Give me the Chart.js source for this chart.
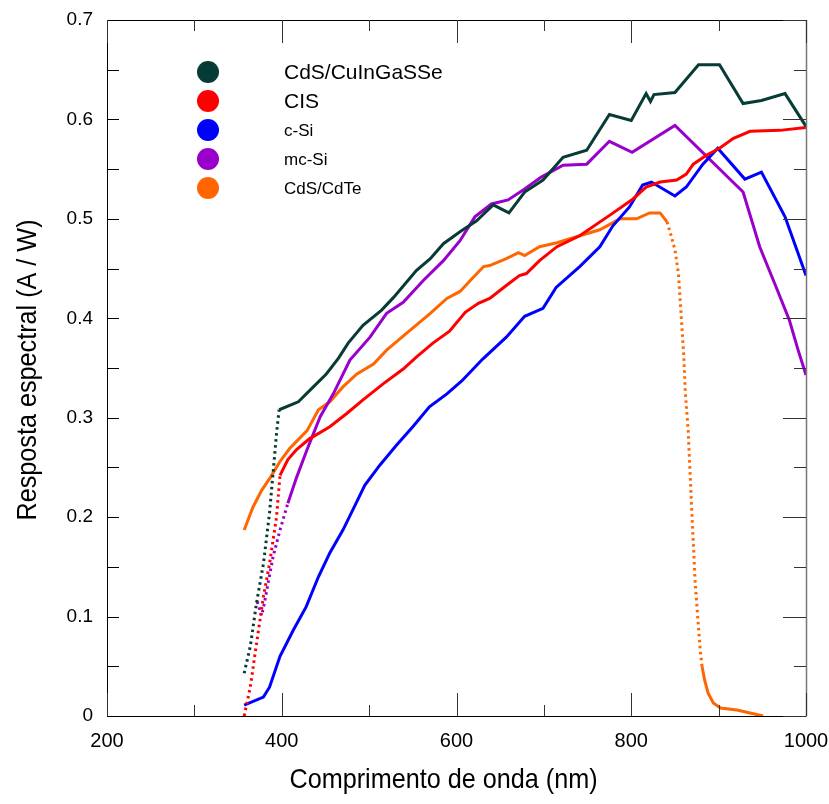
<!DOCTYPE html>
<html>
<head>
<meta charset="utf-8">
<script src="https://cdn.jsdelivr.net/npm/chart.js@4.4.1/dist/chart.umd.min.js"></script>
<style>
html,body{margin:0;padding:0;background:#fff;}
#wrap{width:829px;height:804px;}
</style>
</head>
<body>
<div id="wrap"><canvas id="c" width="829" height="804"></canvas></div>
<script>
// ---- Data (wavelength in nm, spectral response in A/W) ----
const seriesNames = ["CdS/CuInGaSSe", "CIS", "c-Si", "mc-Si", "CdS/CdTe"];
const seriesColors = ["#063b36", "#ff0000", "#0000ff", "#9900cc", "#ff6600"];

const cigssX = [357,364,371,379,386,394,397,419,435,451,465,476,493,514,528,554,570,585,604,623,642,660,678,699,722,749,775,800,817,822,826,850,877,901,928,949,976,1000];
const cigssY = [0.043,0.070,0.113,0.153,0.204,0.284,0.308,0.316,0.330,0.344,0.360,0.375,0.393,0.408,0.421,0.448,0.460,0.475,0.487,0.498,0.514,0.506,0.527,0.539,0.562,0.569,0.605,0.599,0.626,0.618,0.625,0.627,0.655,0.655,0.616,0.619,0.626,0.593];

const cisX = [357,364,369,374,379,386,394,398,407,417,432,436,455,474,493,516,539,554,573,592,610,625,638,657,672,680,695,715,741,776,802,817,833,852,863,871,886,901,917,936,970,1000];
const cisY = [0.000,0.029,0.060,0.090,0.120,0.153,0.200,0.242,0.258,0.268,0.279,0.281,0.291,0.304,0.318,0.334,0.349,0.361,0.375,0.387,0.406,0.415,0.420,0.433,0.443,0.445,0.458,0.472,0.483,0.504,0.520,0.532,0.537,0.539,0.545,0.555,0.564,0.571,0.581,0.588,0.589,0.592];

const csiX = [357,379,386,398,413,428,442,455,470,484,495,512,531,550,569,589,606,630,657,678,699,714,741,764,779,798,813,823,850,863,882,899,930,949,976,1000];
const csiY = [0.011,0.019,0.029,0.060,0.086,0.110,0.140,0.164,0.187,0.212,0.232,0.252,0.272,0.291,0.311,0.324,0.337,0.359,0.381,0.402,0.410,0.431,0.452,0.472,0.493,0.512,0.534,0.537,0.523,0.532,0.555,0.571,0.540,0.547,0.502,0.443];

const mcsiX = [372,377,380,390,398,407,417,429,444,459,478,501,520,539,562,585,604,621,640,659,678,697,722,749,775,801,850,928,947,966,981,991,1000];
const mcsiY = [0.115,0.101,0.113,0.160,0.187,0.214,0.240,0.268,0.301,0.324,0.358,0.381,0.405,0.416,0.438,0.458,0.478,0.502,0.515,0.519,0.530,0.542,0.554,0.555,0.578,0.567,0.594,0.527,0.472,0.431,0.398,0.368,0.343];

const cdteX = [357,367,377,387,398,409,420,429,442,455,470,486,505,520,543,570,589,604,619,631,638,657,671,678,695,715,741,764,787,806,821,833,841,845,850,854,857,860,862,865,867,869,871,873,876,879,881,884,888,894,902,921,936,951];
const cdteY = [0.187,0.210,0.227,0.240,0.256,0.269,0.279,0.287,0.308,0.316,0.331,0.344,0.354,0.368,0.385,0.405,0.420,0.427,0.441,0.452,0.453,0.460,0.466,0.463,0.472,0.476,0.483,0.489,0.500,0.500,0.506,0.506,0.497,0.485,0.469,0.445,0.405,0.364,0.324,0.289,0.251,0.211,0.175,0.137,0.100,0.066,0.050,0.036,0.023,0.013,0.008,0.006,0.003,0.000];

// wavelength ranges drawn with a dotted line
const dottedRanges = [[0,397],[0,398],[0,0],[0,407],[841,882]];

const xTickValues = [200,400,600,800,1000];
const yTickValues = [0,0.1,0.2,0.3,0.4,0.5,0.6,0.7];
const xTitle = 'Comprimento de onda (nm)';
const yTitle = 'Resposta espectral (A / W)';

const allX = [cigssX, cisX, csiX, mcsiX, cdteX];
const allY = [cigssY, cisY, csiY, mcsiY, cdteY];

const datasets = seriesNames.map((name, k) => {
  const rng = dottedRanges[k];
  return {
    label: name,
    data: allX[k].map((x, i) => ({x: x, y: allY[k][i]})),
    showLine: true,
    borderColor: seriesColors[k],
    backgroundColor: seriesColors[k],
    borderWidth: 3,
    pointRadius: 0,
    tension: 0,
    fill: false,
    segment: {
      borderDash: ctx => (ctx.p0.parsed.x >= rng[0] && ctx.p1.parsed.x <= rng[1]) ? [2.5, 3.5] : undefined
    }
  };
});

const frameTicks = {
  id: 'frameTicks',
  afterDatasetsDraw(chart) {
    const {ctx, chartArea: a, scales: {x, y}} = chart;
    ctx.save();
    ctx.lineWidth = 1;
    ctx.strokeStyle = '#000';
    ctx.beginPath();
    ctx.moveTo(a.left + 0.5, a.top + 0.5);
    ctx.lineTo(a.left + 0.5, a.bottom + 0.5);
    ctx.lineTo(a.right + 0.5, a.bottom + 0.5);
    ctx.moveTo(a.left + 0.5, a.top + 0.5);
    ctx.lineTo(a.right + 0.5, a.top + 0.5);
    ctx.stroke();
    ctx.strokeStyle = '#777';
    ctx.lineWidth = 1.5;
    ctx.beginPath();
    ctx.moveTo(a.right + 0.5, a.top);
    ctx.lineTo(a.right + 0.5, a.bottom);
    ctx.stroke();
    for (let i = 0; i <= 14; i++) {
      const v = i * 0.05;
      const py = Math.round(y.getPixelForValue(v)) + 0.5;
      const major = i % 2 === 0;
      ctx.strokeStyle = '#000';
      ctx.lineWidth = 1;
      ctx.beginPath();
      ctx.moveTo(a.left, py); ctx.lineTo(a.left + 12, py);
      ctx.stroke();
      ctx.strokeStyle = '#333';
      ctx.beginPath();
      ctx.moveTo(a.right, py); ctx.lineTo(a.right - (major ? 23 : 12), py);
      ctx.stroke();
    }
    for (let v = 200; v <= 1000; v += 100) {
      const px = Math.round(x.getPixelForValue(v)) + 0.5;
      const major = (v % 200) === 0;
      const len = major ? 23 : 11;
      ctx.strokeStyle = '#333';
      ctx.beginPath();
      ctx.moveTo(px, a.bottom); ctx.lineTo(px, a.bottom - len);
      ctx.moveTo(px, a.top); ctx.lineTo(px, a.top + len);
      ctx.stroke();
    }
    ctx.restore();
  }
};

const legendAndTitles = {
  id: 'legendAndTitles',
  afterDraw(chart) {
    const {ctx, chartArea: a} = chart;
    ctx.save();
    const cx = 208, y0 = 72, dy = 29;
    const sizes = [21, 21, 17, 17, 17];
    seriesNames.forEach((name, i) => {
      const cy = y0 + i * dy;
      ctx.fillStyle = seriesColors[i];
      ctx.beginPath();
      ctx.arc(cx, cy, 11, 0, Math.PI * 2);
      ctx.fill();
      ctx.fillStyle = '#000';
      ctx.font = sizes[i] + 'px "Liberation Sans", Arial, sans-serif';
      ctx.textBaseline = 'middle';
      ctx.textAlign = 'left';
      ctx.fillText(name, 284, cy + 1);
    });
    // axis titles (condensed look)
    ctx.fillStyle = '#000';
    ctx.font = '28px "Liberation Sans", Arial, sans-serif';
    ctx.textAlign = 'center';
    ctx.textBaseline = 'middle';
    ctx.save();
    ctx.translate((a.left + a.right) / 2 - 13, 780);
    ctx.scale(0.9, 1);
    ctx.fillText(xTitle, 0, 0);
    ctx.restore();
    ctx.save();
    ctx.translate(28, 370);
    ctx.rotate(-Math.PI / 2);
    ctx.scale(0.9, 1);
    ctx.fillText(yTitle, 0, 0);
    ctx.restore();
    ctx.restore();
  }
};

new Chart(document.getElementById('c'), {
  type: 'scatter',
  data: { datasets: datasets },
  options: {
    responsive: false,
    animation: false,
    devicePixelRatio: 1,
    layout: { padding: { left: 0, right: 23, top: 20, bottom: 0 } },
    plugins: { legend: { display: false }, tooltip: { enabled: false } },
    scales: {
      x: {
        type: 'linear',
        min: 200, max: 1000,
        afterFit: s => { s.height = 88; s.paddingLeft = 0; s.paddingRight = 0; },
        afterBuildTicks: s => { s.ticks = xTickValues.map(v => ({value: v})); },
        ticks: { color: '#000', padding: 13, maxRotation: 0, autoSkip: false,
                 font: { family: '"Liberation Sans", Arial, sans-serif', size: 20 },
                 callback: v => String(v) },
        grid: { display: false, drawTicks: false },
        border: { display: false },
        title: { display: false }
      },
      y: {
        type: 'linear',
        min: 0, max: 0.7,
        afterFit: s => { s.width = 107; s.paddingTop = 0; s.paddingBottom = 0; },
        afterBuildTicks: s => { s.ticks = yTickValues.map(v => ({value: v})); },
        ticks: { color: '#000', padding: 14, autoSkip: false,
                 font: { family: '"Liberation Sans", Arial, sans-serif', size: 19 },
                 callback: v => v === 0 ? '0' : v.toFixed(1) },
        grid: { display: false, drawTicks: false },
        border: { display: false },
        title: { display: false }
      }
    }
  },
  plugins: [frameTicks, legendAndTitles]
});
</script>
</body>
</html>
